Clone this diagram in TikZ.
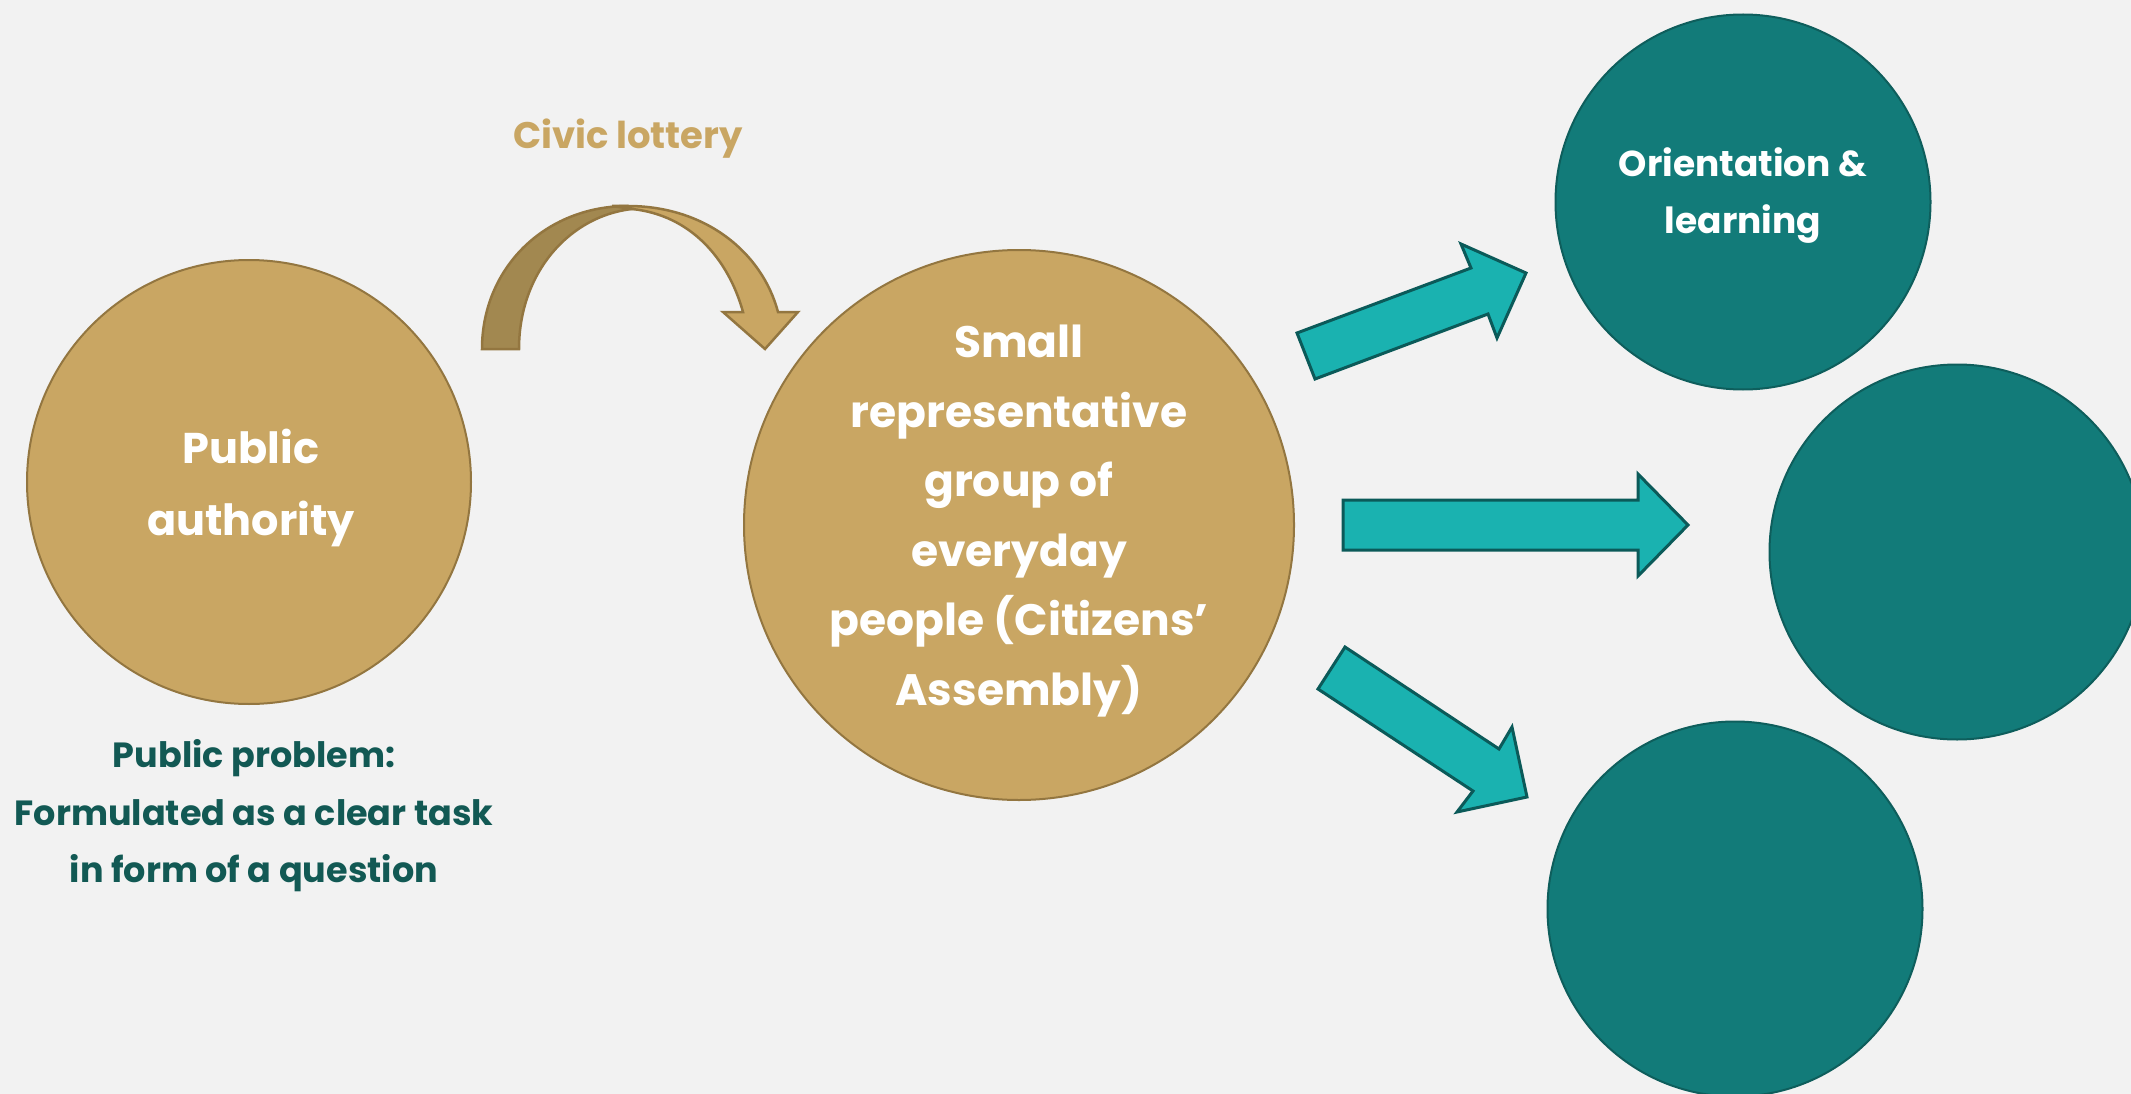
\documentclass[tikz,border=0pt]{standalone}
\usepackage{fontspec}
\setmainfont{Poppins}
\definecolor{bgc}{HTML}{F2F2F2}
\definecolor{goldf}{HTML}{C9A663}
\definecolor{goldd}{HTML}{A28850}
\definecolor{goldb}{HTML}{937640}
\definecolor{tealc}{HTML}{127B79}
\definecolor{tealb}{HTML}{0E5E5C}
\definecolor{arrf}{HTML}{1AB2B0}
\definecolor{arrb}{HTML}{0B5A59}
\definecolor{txtd}{HTML}{125954}
\begin{document}
\begin{tikzpicture}[x=1pt,y=-1pt,
  goldcirc/.style={circle,fill=goldf,draw=goldb,line width=2pt,inner sep=0pt},
  tealcirc/.style={circle,fill=tealc,draw=tealb,line width=2pt,inner sep=0pt,minimum size=375pt},
  whitetxt/.style={text=white,align=center,inner sep=0pt},
  blockarrow/.style={fill=arrf,draw=arrb,line width=3pt,line join=miter},
  curvearrow/.style={draw=goldb,line width=2.5pt,line join=miter}]
\useasboundingbox (0,0) rectangle (2131,1094);
\fill[bgc] (0,0) rectangle (2131,1094);

% circles
\node[goldcirc,minimum size=444pt] (auth) at (249,482) {};
\node[whitetxt,font=\bfseries\fontsize{43}{72}\selectfont] (authtxt) at (251,488) {Public\\authority};
\node[goldcirc,minimum size=550pt] (group) at (1019,525) {};
\node[whitetxt,font=\bfseries\fontsize{44}{69.5}\selectfont] (grouptxt) at (1019,521) {Small\\representative\\group of\\everyday\\people (Citizens'\\Assembly)};

\node[tealcirc] (orient) at (1743,202) {};
\node[whitetxt,font=\bfseries\fontsize{36}{57}\selectfont] (orienttxt) at (1743,196) {Orientation \&\\learning};
\node[tealcirc] (mid) at (1957,552) {};
\node[tealcirc] (low) at (1735,909) {};

% texts
\node[font=\bfseries\fontsize{37}{58}\selectfont,text=goldf,inner sep=0pt] (civic) at (628,139) {Civic lottery};
\node[font=\bfseries\fontsize{35}{57.5}\selectfont,text=txtd,align=center,inner sep=0pt] (problem) at (254,816) {Public problem:\\Formulated as a clear task\\in form of a question};

% curved arrow
\draw[curvearrow,fill=goldd] (482,349) .. controls (482,268) and (545,206) .. (628,206)
  -- (632,209) .. controls (570,216) and (519,272) .. (519,349) -- cycle;
\draw[curvearrow,fill=goldf] (612,206) -- (628,206) .. controls (705,206) and (762,252) .. (778,312)
  -- (798,312) -- (765,349) -- (723,312) -- (743,312)
  .. controls (728,258) and (690,215) .. (632,209) -- cycle;

% block arrows
\draw[blockarrow] (1297,333) -- (1471,268) -- (1461,244) -- (1526,273) -- (1497,338) -- (1488,314) -- (1315,379) -- cycle;
\draw[blockarrow] (1343,500) -- (1638,500) -- (1638,474) -- (1688,525) -- (1638,576) -- (1638,550) -- (1343,550) -- cycle;
\draw[blockarrow] (1345,647) -- (1499,749) -- (1512,727) -- (1527,797) -- (1457,812) -- (1473,791) -- (1318,689) -- cycle;
\end{tikzpicture}
\end{document}
